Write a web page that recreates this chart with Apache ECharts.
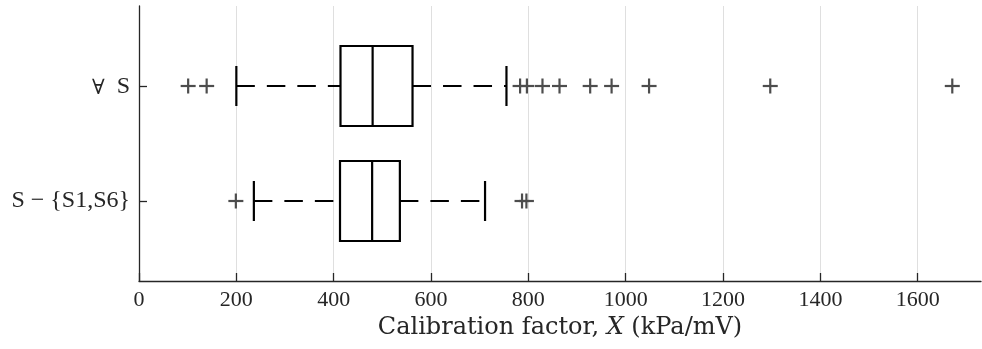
<!DOCTYPE html>
<html><head><meta charset="utf-8">
<script src="https://cdn.jsdelivr.net/npm/echarts@6/dist/echarts.min.js"></script>
<style>html,body{margin:0;padding:0;background:#fff}#c{width:982px;height:349px}</style>
</head><body><div id="c"></div>
<script>
// Groups (y position 1 = lower row, 2 = upper row)
const categories = ['S − {S1,S6}', '∀ S'];
const groupPos = [1, 2];
const whiskerLow = [236, 200];
const q1 = [413, 414];
const median = [479, 480];
const q3 = [536, 562];
const whiskerHigh = [711, 755];
const outliersSub = [199, 787, 796];
const outliersAll = [101, 139, 783, 797, 829, 864, 927, 971, 1048, 1297, 1671];
const xTicks = [0, 200, 400, 600, 800, 1000, 1200, 1400, 1600];
const xNameParts = ['Calibration factor, ', 'X', ' (kPa/mV)'];

const boxData = groupPos.map((p, i) => [whiskerLow[i], q1[i], median[i], q3[i], whiskerHigh[i], p]);
const outData = [];
outliersSub.forEach(v => outData.push([v, groupPos[0]]));
outliersAll.forEach(v => outData.push([v, groupPos[1]]));

const INK = '#000';
const AX = '#262626';
const BOX_HALF = 40, CAP_HALF = 20, PLUS_HALF = 7.5;

function renderBox(params, api) {
  const y = api.value(5);
  const pLo = api.coord([api.value(0), y]);
  const pA = api.coord([api.value(1), y]);
  const pM = api.coord([api.value(2), y]);
  const pB = api.coord([api.value(3), y]);
  const pHi = api.coord([api.value(4), y]);
  const cy = Math.round(pLo[1]);
  const dash = {stroke: INK, lineWidth: 2.2, lineDash: [18.5, 12], fill: null};
  const solid = {stroke: INK, lineWidth: 2.2, fill: null};
  return {type: 'group', children: [
    {type: 'line', shape: {x1: pLo[0], y1: cy, x2: pA[0], y2: cy}, style: dash},
    {type: 'line', shape: {x1: pB[0], y1: cy, x2: pHi[0], y2: cy}, style: dash},
    {type: 'line', shape: {x1: pLo[0], y1: cy - CAP_HALF, x2: pLo[0], y2: cy + CAP_HALF}, style: solid},
    {type: 'line', shape: {x1: pHi[0], y1: cy - CAP_HALF, x2: pHi[0], y2: cy + CAP_HALF}, style: solid},
    {type: 'rect', shape: {x: pA[0], y: cy - BOX_HALF, width: pB[0] - pA[0], height: 2 * BOX_HALF}, style: {stroke: INK, lineWidth: 2.2, fill: 'rgba(0,0,0,0)'}},
    {type: 'line', shape: {x1: pM[0], y1: cy - BOX_HALF, x2: pM[0], y2: cy + BOX_HALF}, style: solid}
  ]};
}
function renderPlus(params, api) {
  const p = api.coord([api.value(0), api.value(1)]);
  const cy = Math.round(p[1]);
  const st = {stroke: '#4d4d4d', lineWidth: 2.2, fill: null};
  return {type: 'group', children: [
    {type: 'line', shape: {x1: p[0] - PLUS_HALF, y1: cy, x2: p[0] + PLUS_HALF, y2: cy}, style: st},
    {type: 'line', shape: {x1: p[0], y1: cy - PLUS_HALF, x2: p[0], y2: cy + PLUS_HALF}, style: st}
  ]};
}
function yLabel(v) {
  const t = categories[groupPos.indexOf(Math.round(v))] || '';
  if (t.charAt(0) === '∀') return '{q|∀}{n|' + t.slice(1).replace(' ', '\u2002') + '}';
  return '{n|' + t + '}';
}

const chart = echarts.init(document.getElementById('c'), null, {renderer: 'canvas'});
chart.setOption({
  animation: false,
  backgroundColor: '#fff',
  grid: {left: 139, right: 1, top: 6, bottom: 68, containLabel: false},
  xAxis: {
    type: 'value', min: 0, max: 1730, interval: 200,
    name: '{n|' + xNameParts[0] + '}{i|' + xNameParts[1] + '}{n|' + xNameParts[2] + '}',
    nameLocation: 'middle', nameGap: 29,
    nameTextStyle: {
      fontFamily: 'DejaVu Serif', fontSize: 24, color: AX,
      rich: {
        n: {fontFamily: 'DejaVu Serif', fontSize: 24, color: AX},
        i: {fontFamily: 'DejaVu Serif', fontStyle: 'italic', fontSize: 24, color: AX}
      }
    },
    axisLine: {show: true, lineStyle: {color: AX, width: 1.3}},
    axisTick: {show: true, inside: true, length: 8, lineStyle: {color: AX, width: 1.3}, customValues: xTicks},
    axisLabel: {customValues: xTicks, margin: 8, fontFamily: 'Liberation Serif', fontSize: 22, color: AX,
      formatter: v => String(Math.round(v))},
    splitLine: {show: true, lineStyle: {color: '#dfdfdf', width: 1}}
  },
  yAxis: {
    type: 'value', min: 0.3, max: 2.7,
    axisLine: {show: true, lineStyle: {color: AX, width: 1.3}},
    axisTick: {show: true, inside: true, length: 8, lineStyle: {color: AX, width: 1.3}, customValues: groupPos},
    axisLabel: {customValues: groupPos, margin: 9, fontFamily: 'Liberation Serif', fontSize: 24, color: AX,
      formatter: yLabel,
      rich: {
        n: {fontFamily: 'Liberation Serif', fontSize: 24, lineHeight: 26, color: AX},
        q: {fontFamily: 'DejaVu Serif', fontSize: 21, lineHeight: 26, verticalAlign: 'middle', padding: [5, 0, 0, 0], color: AX}
      }},
    splitLine: {show: false}
  },
  series: [
    {type: 'custom', renderItem: renderBox, data: boxData, clip: false, z: 3},
    {type: 'custom', renderItem: renderPlus, data: outData, clip: false, z: 4}
  ]
});
</script></body></html>
